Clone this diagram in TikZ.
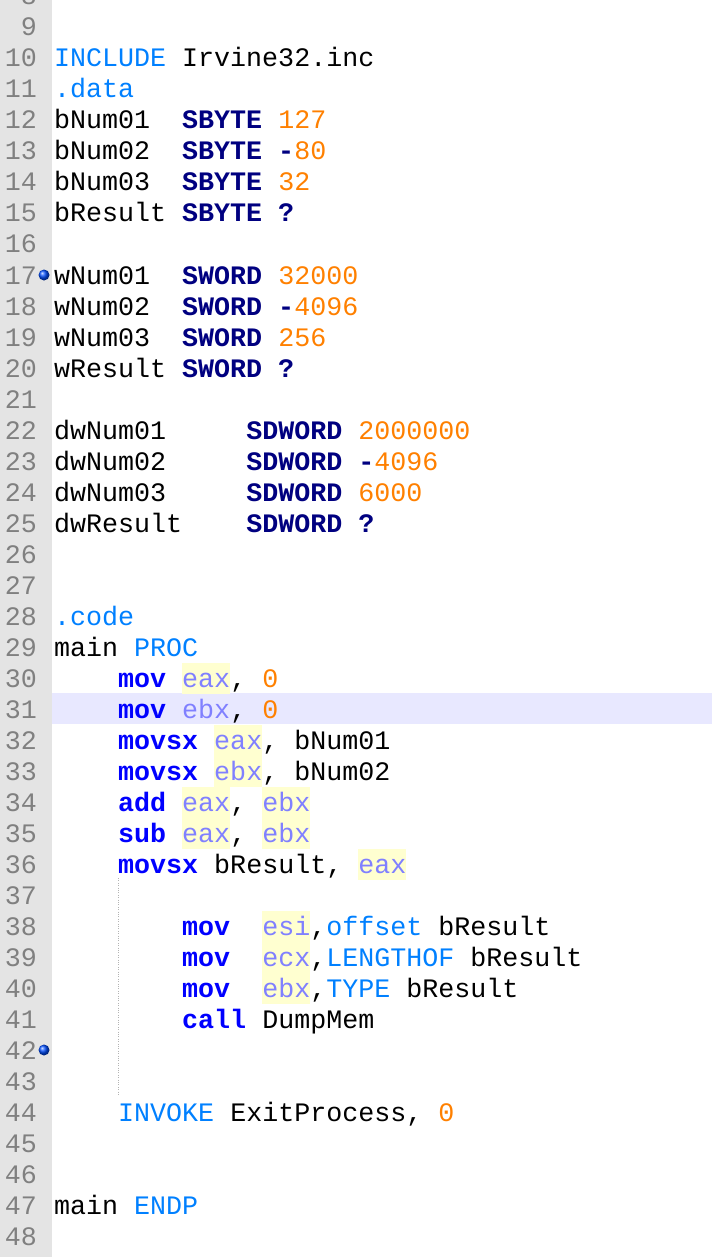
\documentclass[tikz,border=0pt]{standalone}
\usepackage{fontspec}
\setmainfont{Liberation Mono}
\definecolor{gut}{HTML}{E4E4E4}
\definecolor{lnum}{HTML}{808080}
\definecolor{navy}{HTML}{000080}
\definecolor{kblue}{HTML}{0000FF}
\definecolor{dir}{HTML}{0080FF}
\definecolor{regc}{HTML}{8080FF}
\definecolor{numc}{HTML}{FF8000}
\definecolor{hl}{HTML}{E8E8FF}
\definecolor{ybg}{HTML}{FFFFD0}
\newcommand{\kd}[1]{\textbf{\color{navy}#1}}
\newcommand{\kc}[1]{\textbf{\color{kblue}#1}}
\newcommand{\dr}[1]{{\color{dir}#1}}
\newcommand{\rg}[1]{{\color{regc}#1}}
\newcommand{\nm}[1]{{\color{numc}#1}}
\newcommand{\codeline}[2]{\node[code] (c#1) at (54,{58+(#1-10)*31+9}) {#2};}
\tikzset{code/.style={anchor=base west,inner sep=0pt,font=\fontsize{26.67}{30}\selectfont},
 lno/.style={anchor=base east,inner sep=0pt,text=lnum,font=\fontsize{26.67}{30}\selectfont},
 bpmark/.style={circle,inner sep=0pt,minimum size=11pt,ball color=blue!70!cyan}}
\begin{document}
\begin{tikzpicture}[x=1pt,y=-1pt]
\useasboundingbox (0,0) rectangle (712,1257);
\begin{scope}
\clip (0,0) rectangle (712,1257);
\fill[gut] (0,-10) rectangle (52,1257);
\fill[hl] (52,693) rectangle (712,724);
\foreach \l/\c in {30/8,32/10,33/10,34/8,34/13,35/8,35/13,36/19,38/13,39/13,40/13}{
  \fill[ybg] ({54+\c*16},{58+(\l-10)*31-15}) rectangle ({54+(\c+3)*16},{58+(\l-10)*31+16});
}
\draw[lnum!60,dotted] (118,878) -- (118,1095);
\foreach \n in {8,...,48}{
  \node[lno] (n\n) at (37,{58+(\n-10)*31+9}) {\n};
}
\codeline{10}{\dr{INCLUDE} Irvine32.inc}
\codeline{11}{\dr{.data}}
\codeline{12}{bNum01~ \kd{SBYTE} \nm{127}}
\codeline{13}{bNum02~ \kd{SBYTE -}\nm{80}}
\codeline{14}{bNum03~ \kd{SBYTE} \nm{32}}
\codeline{15}{bResult \kd{SBYTE ?}}
\codeline{17}{wNum01~ \kd{SWORD} \nm{32000}}
\codeline{18}{wNum02~ \kd{SWORD -}\nm{4096}}
\codeline{19}{wNum03~ \kd{SWORD} \nm{256}}
\codeline{20}{wResult \kd{SWORD ?}}
\codeline{22}{dwNum01~~~~ \kd{SDWORD} \nm{2000000}}
\codeline{23}{dwNum02~~~~ \kd{SDWORD -}\nm{4096}}
\codeline{24}{dwNum03~~~~ \kd{SDWORD} \nm{6000}}
\codeline{25}{dwResult~~~ \kd{SDWORD ?}}
\codeline{28}{\dr{.code}}
\codeline{29}{main \dr{PROC}}
\codeline{30}{~~~~\kc{mov} \rg{eax}, \nm{0}}
\codeline{31}{~~~~\kc{mov} \rg{ebx}, \nm{0}}
\codeline{32}{~~~~\kc{movsx} \rg{eax}, bNum01}
\codeline{33}{~~~~\kc{movsx} \rg{ebx}, bNum02}
\codeline{34}{~~~~\kc{add} \rg{eax}, \rg{ebx}}
\codeline{35}{~~~~\kc{sub} \rg{eax}, \rg{ebx}}
\codeline{36}{~~~~\kc{movsx} bResult, \rg{eax}}
\codeline{38}{~~~~~~~~\kc{mov}~ \rg{esi},\dr{offset} bResult}
\codeline{39}{~~~~~~~~\kc{mov}~ \rg{ecx},\dr{LENGTHOF} bResult}
\codeline{40}{~~~~~~~~\kc{mov}~ \rg{ebx},\dr{TYPE} bResult}
\codeline{41}{~~~~~~~~\kc{call} DumpMem}
\codeline{44}{~~~~\dr{INVOKE} ExitProcess, \nm{0}}
\codeline{47}{main \dr{ENDP}}
\node[bpmark] (m17) at (44,275) {};
\node[bpmark] (m42) at (44,1050) {};
\end{scope}
\end{tikzpicture}
\end{document}
